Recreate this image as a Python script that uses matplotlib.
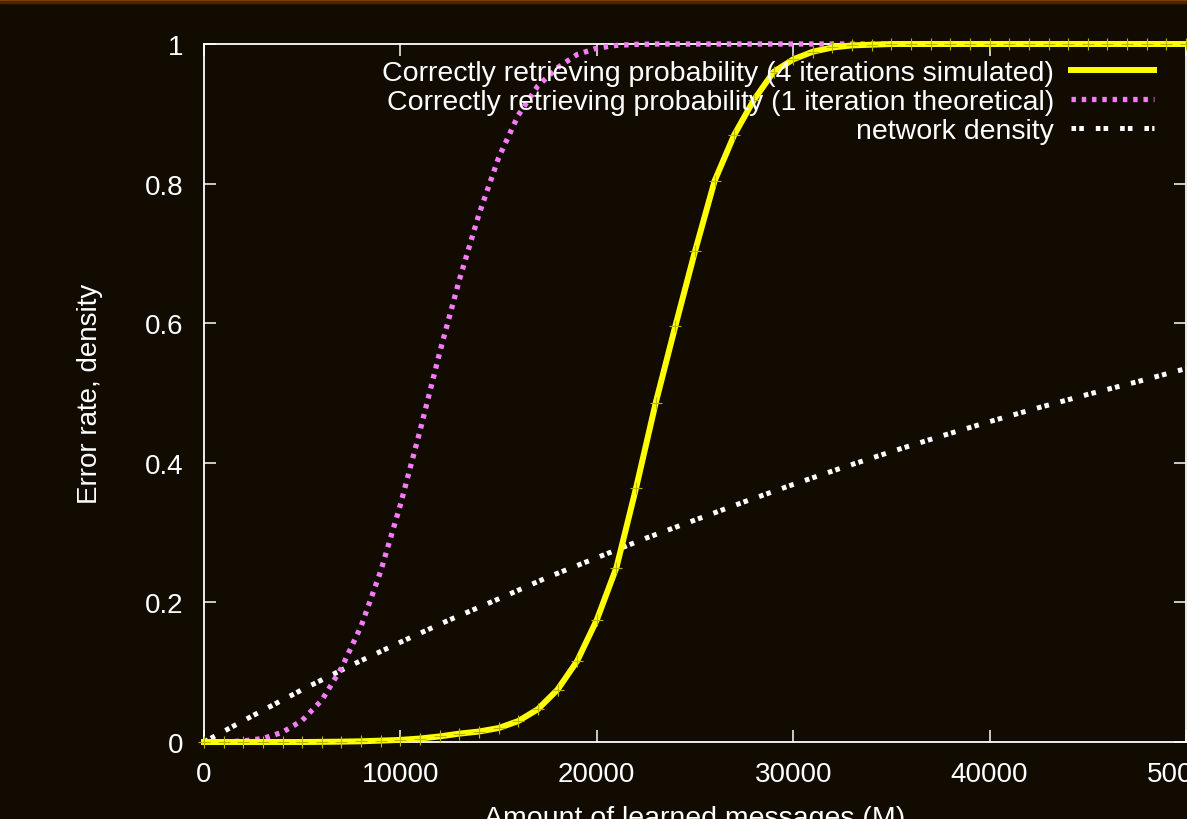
import numpy as np
import matplotlib
matplotlib.use('Agg')
import matplotlib.pyplot as plt
from matplotlib.lines import Line2D
from matplotlib.patches import Rectangle

# Messages learned (x) and the three measured / computed curves
msgs = np.arange(0, 50001, 1000)

# 4 iterations, simulated (one point per 1000 messages)
p_sim = [0.0, 0.0, 0.0, 0.0, 0.0, 0.0, 0.0002, 0.0005, 0.001, 0.002,
         0.003, 0.005, 0.008, 0.012, 0.015, 0.02, 0.03, 0.047, 0.075, 0.116,
         0.175, 0.25, 0.364, 0.486, 0.596, 0.703, 0.804, 0.87, 0.92, 0.96,
         0.978, 0.989, 0.995, 0.998, 0.999, 1.0, 1.0, 1.0, 1.0, 1.0,
         1.0, 1.0, 1.0, 1.0, 1.0, 1.0, 1.0, 1.0, 1.0, 1.0, 1.0]

# 1 iteration, theoretical
p_theo = [0.0, 0.0002, 0.0015, 0.005, 0.014, 0.031, 0.060, 0.106, 0.166, 0.245,
          0.340, 0.446, 0.558, 0.662, 0.756, 0.837, 0.898, 0.940, 0.966, 0.985,
          0.994, 0.998, 0.9995, 1.0, 1.0, 1.0, 1.0, 1.0, 1.0, 1.0,
          1.0, 1.0, 1.0, 1.0, 1.0, 1.0, 1.0, 1.0, 1.0, 1.0,
          1.0, 1.0, 1.0, 1.0, 1.0, 1.0, 1.0, 1.0, 1.0, 1.0, 1.0]

# network density
dens_x = np.arange(0, 50001, 2500)
dens = [0.0, 0.038, 0.075, 0.110, 0.143, 0.175, 0.205, 0.236, 0.264, 0.292,
        0.318, 0.344, 0.369, 0.393, 0.416, 0.438, 0.459, 0.479, 0.498, 0.516, 0.535]

labels = ['Correctly retrieving probability (4 iterations simulated)',
          'Correctly retrieving probability (1 iteration theoretical)',
          'network density']

bg = '#110b02'
fg = 'white'
plt.rcParams['font.family'] = ['Liberation Sans', 'DejaVu Sans']
plt.rcParams['lines.scale_dashes'] = False
fs = 20
fs_leg = 20.5

fig = plt.figure(figsize=(11.87, 8.20), dpi=100, facecolor=bg)
ax = fig.add_axes([204/1187, 77/820, 982/1187, 698/820], facecolor=bg)

# thin orange strip along the top edge
fig.patches.append(Rectangle((0, 1 - 2/820), 1, 2/820, transform=fig.transFigure,
                             color='#8a4600', zorder=0))
fig.patches.append(Rectangle((0, 1 - 4/820), 1, 2/820, transform=fig.transFigure,
                             color='#4a2600', zorder=0))

white_dash = (3.3, 2.3, 3.3, 8.6)
pink_dash = (3.2, 4.2)

ax.plot(dens_x, dens, color=fg, lw=3.6, dashes=white_dash,
        dash_capstyle='butt', clip_on=False, zorder=3)
ax.plot(msgs, p_theo, color='#f47cf4', lw=3.8, dashes=pink_dash,
        dash_capstyle='butt', clip_on=False, zorder=3)
ax.plot(msgs, p_sim, color='#ffff00', lw=4.3, marker='+', ms=8.6,
        mew=0.8, mec='#b8b800', clip_on=False, zorder=4)

ax.set_xlim(0, 50000)
ax.set_ylim(0, 1)
ax.set_xticks(np.arange(0, 50001, 10000))
ax.set_yticks([0, 0.2, 0.4, 0.6, 0.8, 1])
ax.set_yticklabels(['0', '0.2', '0.4', '0.6', '0.8', '1'])

for s in ax.spines.values():
    s.set_color(fg)
    s.set_linewidth(1.3)
ax.tick_params(direction='in', length=8.6, width=1.1, color=fg, labelcolor=fg,
               labelsize=fs, top=True, right=True)
ax.tick_params(axis='y', pad=15)
ax.tick_params(axis='x', pad=14)

ax.set_xlabel('Amount of learned messages (M)', color=fg, fontsize=fs_leg, labelpad=13)
ax.set_ylabel('Error rate, density', color=fg, fontsize=fs, labelpad=30)

handles = [Line2D([], [], color='#ffff00', lw=4.3),
           Line2D([], [], color='#f47cf4', lw=3.8, dashes=pink_dash, dash_capstyle='butt'),
           Line2D([], [], color=fg, lw=3.6, dashes=white_dash, dash_capstyle='butt')]
leg = ax.legend(handles, labels, loc='upper right', frameon=False, markerfirst=False,
                fontsize=fs_leg, labelcolor=fg, handlelength=2.9, handletextpad=0.6,
                labelspacing=0.1, borderpad=0, borderaxespad=0,
                bbox_to_anchor=(1154/1187, 1 - 61/820), bbox_transform=fig.transFigure)

fig.savefig('out.png', dpi=100, facecolor=bg)
